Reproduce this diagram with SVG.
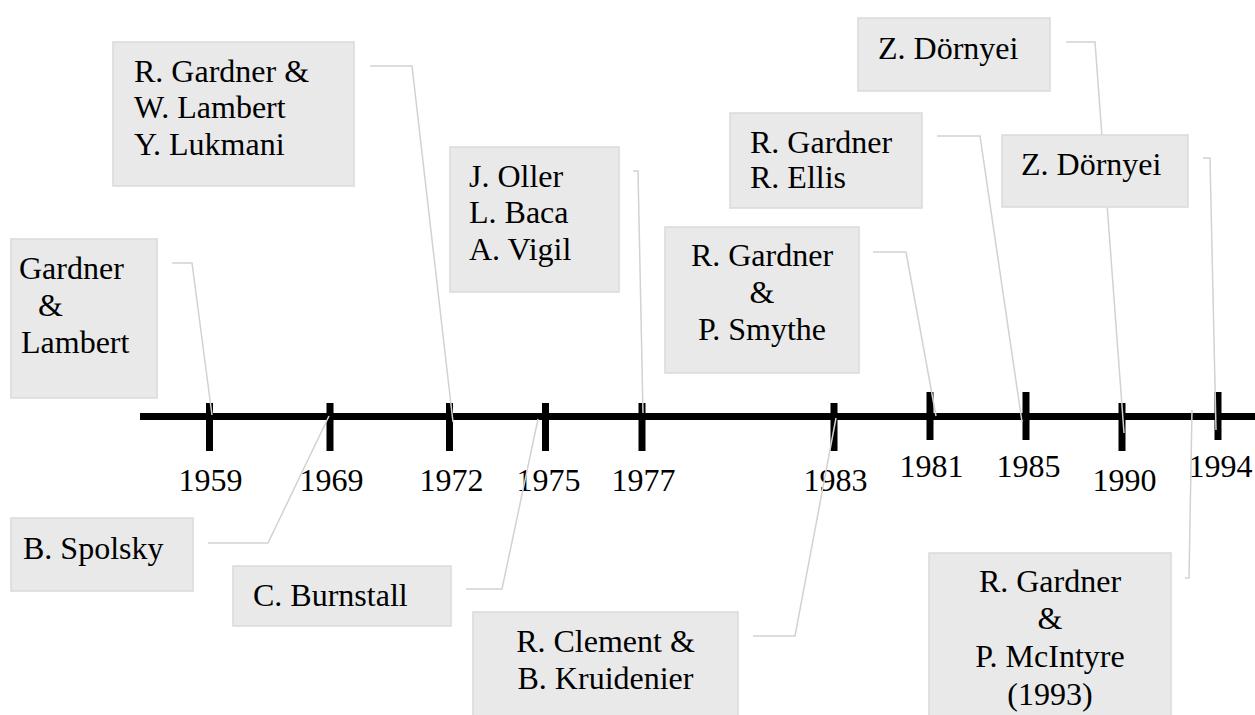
<svg xmlns="http://www.w3.org/2000/svg" width="1255" height="715" viewBox="0 0 1255 715">
<defs>
<rect id="tk" width="7" height="48" fill="#000"/>
</defs>
<rect width="1255" height="715" fill="#fff"/>
<g id="timeline">
<rect x="140" y="413" width="1115" height="7" fill="#000"/>
<use href="#tk" x="206" y="403"/>
<use href="#tk" x="326.5" y="403"/>
<use href="#tk" x="446" y="403"/>
<use href="#tk" x="542" y="403"/>
<use href="#tk" x="638.5" y="403"/>
<use href="#tk" x="830.5" y="403"/>
<use href="#tk" x="926.5" y="392"/>
<use href="#tk" x="1022.5" y="392"/>
<use href="#tk" x="1118.5" y="403"/>
<use href="#tk" x="1214.5" y="392"/>
<text font-family="Liberation Serif" font-size="32" x="178.4" y="491">1959</text>
<text font-family="Liberation Serif" font-size="32" x="299.4" y="491">1969</text>
<text font-family="Liberation Serif" font-size="32" x="419.4" y="491">1972</text>
<text font-family="Liberation Serif" font-size="32" x="516.4" y="491">1975</text>
<text font-family="Liberation Serif" font-size="32" x="611.4" y="491">1977</text>
<text font-family="Liberation Serif" font-size="32" x="803.4" y="491">1983</text>
<text font-family="Liberation Serif" font-size="32" x="899.4" y="477">1981</text>
<text font-family="Liberation Serif" font-size="32" x="996.4" y="477">1985</text>
<text font-family="Liberation Serif" font-size="32" x="1092.4" y="491">1990</text>
<text font-family="Liberation Serif" font-size="32" x="1188.4" y="477">1994</text>
</g>
<g id="connectors" fill="none" stroke="#d2d2d2" stroke-width="1.5">
<polyline points="172,263 192,263 212,415"/>
<polyline points="370,66 412,66 453,422"/>
<polyline points="633,171 638,171 643,413"/>
<polyline points="873,252 906,252 936,416"/>
<polyline points="1066,42 1095,42 1124,433"/>
<polyline points="1203,158 1210,158 1216,430"/>
<polyline points="937,136 980,136 1022,422"/>
<polyline points="208,543 268,543 329,416"/>
<polyline points="466,589 502,589 538,419"/>
<polyline points="753,636 795,636 836,418"/>
<polyline points="1185,578 1189,578 1192,410"/>
</g>
<g id="n1959">
<rect x="11" y="239" width="146" height="159" fill="#e9e9e9" stroke="#dadada" stroke-width="1.5"/>
<text font-family="Liberation Serif" font-size="32" x="19" y="279">Gardner</text>
<text font-family="Liberation Serif" font-size="32" x="38" y="316">&amp;</text>
<text font-family="Liberation Serif" font-size="32" x="21" y="353">Lambert</text>
</g>
<g id="n1972">
<rect x="113" y="42" width="241" height="144" fill="#e9e9e9" stroke="#dadada" stroke-width="1.5"/>
<text font-family="Liberation Serif" font-size="32" x="134" y="82">R. Gardner &amp;</text>
<text font-family="Liberation Serif" font-size="32" x="134" y="118">W. Lambert</text>
<text font-family="Liberation Serif" font-size="32" x="134" y="155">Y. Lukmani</text>
</g>
<g id="n1977">
<rect x="450" y="147" width="169" height="145" fill="#e9e9e9" stroke="#dadada" stroke-width="1.5"/>
<text font-family="Liberation Serif" font-size="32" x="469" y="187">J. Oller</text>
<text font-family="Liberation Serif" font-size="32" x="469" y="223">L. Baca</text>
<text font-family="Liberation Serif" font-size="32" x="469" y="260">A. Vigil</text>
</g>
<g id="n1981">
<rect x="665" y="227" width="194" height="146" fill="#e9e9e9" stroke="#dadada" stroke-width="1.5"/>
<text font-family="Liberation Serif" font-size="32" text-anchor="middle" x="762" y="266">R. Gardner</text>
<text font-family="Liberation Serif" font-size="32" text-anchor="middle" x="762" y="303">&amp;</text>
<text font-family="Liberation Serif" font-size="32" text-anchor="middle" x="762" y="340">P. Smythe</text>
</g>
<g id="n1990">
<rect x="858" y="18" width="192" height="73" fill="#e9e9e9" stroke="#dadada" stroke-width="1.5"/>
<text font-family="Liberation Serif" font-size="32" x="878" y="59">Z. Dörnyei</text>
</g>
<g id="n1985">
<rect x="730" y="113" width="192" height="95" fill="#e9e9e9" stroke="#dadada" stroke-width="1.5"/>
<text font-family="Liberation Serif" font-size="32" x="750" y="153">R. Gardner</text>
<text font-family="Liberation Serif" font-size="32" x="750" y="188">R. Ellis</text>
</g>
<g id="n1994">
<rect x="1002" y="135" width="186" height="72" fill="#e9e9e9" stroke="#dadada" stroke-width="1.5"/>
<text font-family="Liberation Serif" font-size="32" x="1021" y="175">Z. Dörnyei</text>
</g>
<g id="n1969">
<rect x="11" y="518" width="182" height="73" fill="#e9e9e9" stroke="#dadada" stroke-width="1.5"/>
<text font-family="Liberation Serif" font-size="32" x="23" y="559">B. Spolsky</text>
</g>
<g id="n1975">
<rect x="233" y="566" width="218" height="60" fill="#e9e9e9" stroke="#dadada" stroke-width="1.5"/>
<text font-family="Liberation Serif" font-size="32" x="253" y="606">C. Burnstall</text>
</g>
<g id="n1983">
<rect x="473" y="612" width="265" height="110" fill="#e9e9e9" stroke="#dadada" stroke-width="1.5"/>
<text font-family="Liberation Serif" font-size="32" text-anchor="middle" x="605.5" y="652">R. Clement &amp;</text>
<text font-family="Liberation Serif" font-size="32" text-anchor="middle" x="605.5" y="689">B. Kruidenier</text>
</g>
<g id="n1993">
<rect x="929" y="553" width="242" height="170" fill="#e9e9e9" stroke="#dadada" stroke-width="1.5"/>
<text font-family="Liberation Serif" font-size="32" text-anchor="middle" x="1050" y="592">R. Gardner</text>
<text font-family="Liberation Serif" font-size="32" text-anchor="middle" x="1050" y="629">&amp;</text>
<text font-family="Liberation Serif" font-size="32" text-anchor="middle" x="1050" y="667">P. McIntyre</text>
<text font-family="Liberation Serif" font-size="32" text-anchor="middle" x="1050" y="705">(1993)</text>
</g>
</svg>
